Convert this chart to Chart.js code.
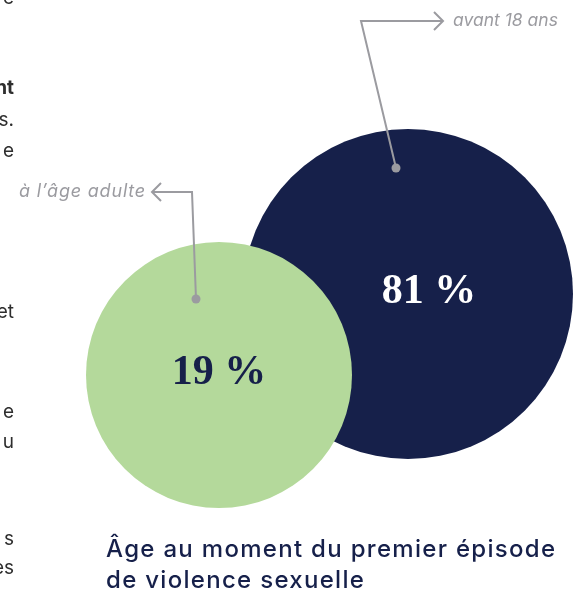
<!DOCTYPE html>
<html>
<head>
<meta charset="utf-8">
<script src="https://cdn.jsdelivr.net/npm/chart.js@4.4.1/dist/chart.umd.min.js"></script>
<style>
  html, body { margin: 0; padding: 0; background: #fff; }
  #wrap { position: relative; width: 587px; height: 591px; overflow: hidden; }
  /* la bulle réserve son rayon en marge : on agrandit le canevas d'autant */
  #graphiqueAge { position: absolute; left: -165px; top: -165px; }
</style>
</head>
<body>
<div id="wrap"><canvas id="graphiqueAge" width="917" height="921"></canvas></div>
<script>
// catégories et valeurs (en %)
const categories = ['avant 18 ans', 'à l\u2019âge adulte'];
const valeurs = [81, 19];
const titre = ['Âge au moment du premier épisode', 'de violence sexuelle'];

// bouts de texte de la colonne voisine, coupés au bord gauche
const fragments = ['e', 'nt', 's.', 'e', 'et', 'e', 'u', 's', 'es'];

// mise en page des bulles (unités = pixels de l'échelle)
const positionsX = [408, 219];
const positionsY = [294, 375];
const rayons = [165, 133];
const couleurs = ['#16204a', '#b4d99b'];
const couleursTexte = ['#ffffff', '#16204a'];
const decalageEtiquette = [21, 0];

document.addEventListener('DOMContentLoaded', function () {
    const donnees = {
        datasets: [{
            label: 'Âge',
            data: valeurs.map(function (v, i) {
                return { x: positionsX[i], y: positionsY[i], r: rayons[i], v: v };
            }),
            backgroundColor: couleurs,
            borderWidth: 0,
            hoverBorderWidth: 0,
            hoverRadius: 0
        }]
    };

    const gris = '#9b9ba0';

    function fleche(ctx, pts, sens) {
        ctx.beginPath();
        ctx.moveTo(pts[0][0], pts[0][1]);
        for (let i = 1; i < pts.length; i++) ctx.lineTo(pts[i][0], pts[i][1]);
        ctx.stroke();
        const b = pts[pts.length - 1];
        ctx.beginPath();
        ctx.moveTo(b[0] - sens * 9, b[1] - 9);
        ctx.lineTo(b[0], b[1]);
        ctx.lineTo(b[0] - sens * 9, b[1] + 9);
        ctx.stroke();
    }

    const habillage = {
        id: 'habillage',
        afterDatasetsDraw(chart) {
            const ctx = chart.ctx;
            const meta = chart.getDatasetMeta(0);
            const zone = chart.chartArea;
            ctx.save();

            // valeurs dans les bulles
            ctx.textAlign = 'center';
            ctx.textBaseline = 'middle';
            ctx.font = 'bold 42px "Liberation Serif", serif';
            meta.data.forEach(function (el, i) {
                ctx.fillStyle = couleursTexte[i];
                ctx.fillText(valeurs[i] + ' %', el.x + decalageEtiquette[i], el.y - 2);
            });

            // repère : coin haut gauche de la zone visible
            ctx.translate(zone.left, zone.top);
            const a = meta.data[0], b = meta.data[1];
            const pa = [a.x - zone.left - 12, a.y - zone.top - 126];
            const pb = [b.x - zone.left - 23, b.y - zone.top - 76];

            // renvois
            ctx.strokeStyle = gris;
            ctx.fillStyle = gris;
            ctx.lineWidth = 2;
            fleche(ctx, [pa, [361, 21], [443, 21]], 1);
            fleche(ctx, [pb, [192, 192], [152, 192]], -1);
            [pa, pb].forEach(function (p) {
                ctx.beginPath();
                ctx.arc(p[0], p[1], 4.5, 0, Math.PI * 2);
                ctx.fill();
            });

            ctx.font = 'italic 17.5px "Inter", sans-serif';
            ctx.textBaseline = 'alphabetic';
            ctx.textAlign = 'left';
            ctx.fillText(categories[0], 453, 26);
            ctx.textAlign = 'right';
            ctx.font = 'italic 18px "Inter", sans-serif';
            ctx.letterSpacing = '0.8px';
            ctx.fillText(categories[1], 146, 197);
            ctx.letterSpacing = '0px';

            // titre
            ctx.fillStyle = '#16204a';
            ctx.textAlign = 'left';
            ctx.font = '500 24px "Inter", sans-serif';
            ctx.letterSpacing = '1.3px';
            ctx.fillText(titre[0], 106, 557);
            ctx.fillText(titre[1], 106, 588);
            ctx.letterSpacing = '0px';

            // fragments du texte voisin
            ctx.fillStyle = '#2e2e2e';
            ctx.textAlign = 'right';
            const lignes = [4, 94, 126, 157, 318, 418, 448, 545, 574];
            fragments.forEach(function (t, i) {
                ctx.font = (i === 1 ? 'bold ' : '') + '19px "Inter", sans-serif';
                ctx.fillText(t, 14, lignes[i]);
            });
            ctx.restore();
        }
    };

    const config = {
        type: 'bubble',
        data: donnees,
        options: {
            responsive: false,
            animation: false,
            events: [],
            layout: { padding: 0 },
            plugins: {
                legend: { display: false },
                tooltip: { enabled: false }
            },
            scales: {
                x: { type: 'linear', min: 0, max: 587, display: false },
                y: { type: 'linear', min: 0, max: 591, reverse: true, display: false }
            }
        },
        plugins: [habillage]
    };

    var graphiqueAge = new Chart(document.getElementById('graphiqueAge'), config);
});
</script>
</body>
</html>
